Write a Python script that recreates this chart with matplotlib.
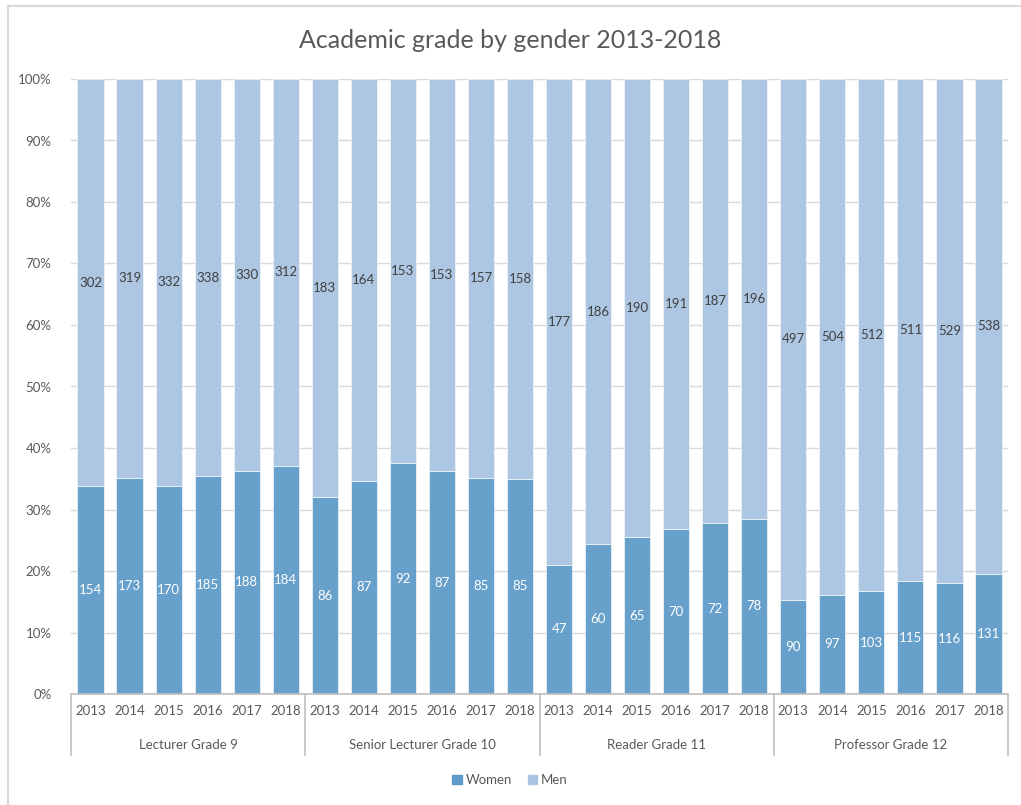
import matplotlib
matplotlib.use("Agg")
import matplotlib.pyplot as plt
from matplotlib.lines import Line2D
from matplotlib.patches import Patch
import numpy as np

groups = ["Lecturer Grade 9", "Senior Lecturer Grade 10", "Reader Grade 11", "Professor Grade 12"]
years = ["2013", "2014", "2015", "2016", "2017", "2018"]
women = [154, 173, 170, 185, 188, 184,
         86, 87, 92, 87, 85, 85,
         47, 60, 65, 70, 72, 78,
         90, 97, 103, 115, 116, 131]
men = [302, 319, 332, 338, 330, 312,
       183, 164, 153, 153, 157, 158,
       177, 186, 190, 191, 187, 196,
       497, 504, 512, 511, 529, 538]

plt.rcParams['font.family'] = ['Lato', 'DejaVu Sans']
W, H = 1021, 805
fig = plt.figure(figsize=(W/100, H/100), dpi=100)
ax = fig.add_axes([71/W, 1-694/H, (1008-71)/W, (694-79)/H])

c_w = "#5F9BC8"
c_m = "#A9C4E2"
txt = "#595959"

w = np.array(women, float)
m = np.array(men, float)
tot = w + m
pw = w / tot * 100
pm = m / tot * 100
x = np.arange(len(women))

ax.set_axisbelow(True)
ax.yaxis.grid(True, color="#D9D9D9", lw=1)
ax.bar(x, pw, width=0.67, color=c_w, alpha=0.95, edgecolor="#EEF3F9", lw=0.6, zorder=2)
ax.bar(x, pm, bottom=pw, width=0.67, color=c_m, alpha=0.95, edgecolor="#EEF3F9", lw=0.6, zorder=2)
for i in x:
    ax.text(i, pw[i]/2, str(women[i]), ha="center", va="center", color="white", fontsize=9.5, zorder=3)
    ax.text(i, pw[i] + pm[i]/2, str(men[i]), ha="center", va="center", color="#404040", fontsize=9.5, zorder=3)

ax.set_xlim(-0.5, len(women)-0.5)
ax.set_ylim(0, 100)
ax.set_yticks(np.arange(0, 101, 10))
ax.set_yticklabels([f"{v}%" for v in range(0, 101, 10)], color=txt, fontsize=9.5)
ax.tick_params(axis="y", length=0, pad=14)
ax.set_xticks(x)
ax.set_xticklabels(years * len(groups), color=txt, fontsize=9.5)
ax.tick_params(axis="x", length=0, pad=8)
for s in ["top", "right", "left"]:
    ax.spines[s].set_visible(False)
ax.spines["bottom"].set_color("#BFBFBF")
ax.spines["bottom"].set_linewidth(1.2)

# group separators and labels
trans = ax.get_xaxis_transform()
n = len(years)
for g in range(len(groups) + 1):
    xp = g * n - 0.5
    ax.plot([xp, xp], [0, -61/615], transform=trans, color="#BFBFBF", lw=1.2, clip_on=False)
for g, name in enumerate(groups):
    ax.text(g * n + (n - 1) / 2, -51/615, name, transform=trans, ha="center", va="center", color=txt, fontsize=9.5)

fig.text(0.5, 1-40/H, "Academic grade by gender 2013-2018", ha="center", va="center", color=txt, fontsize=18)

# legend
fig.legend(handles=[Patch(color=c_w, label="Women"), Patch(color=c_m, label="Men")],
           loc="center", bbox_to_anchor=(510/W, 1-780/H), ncol=2, frameon=False,
           fontsize=9.5, labelcolor=txt, handlelength=0.7, handleheight=0.7,
           handletextpad=0.3, columnspacing=1.2)

# chart border
fig.add_artist(Line2D([8/W, 8/W], [0, 1-6/H], color="#D9D9D9", lw=1.5, transform=fig.transFigure))
fig.add_artist(Line2D([8/W, 1], [1-6/H, 1-6/H], color="#D9D9D9", lw=1.5, transform=fig.transFigure))

fig.savefig("out.png", dpi=100)
